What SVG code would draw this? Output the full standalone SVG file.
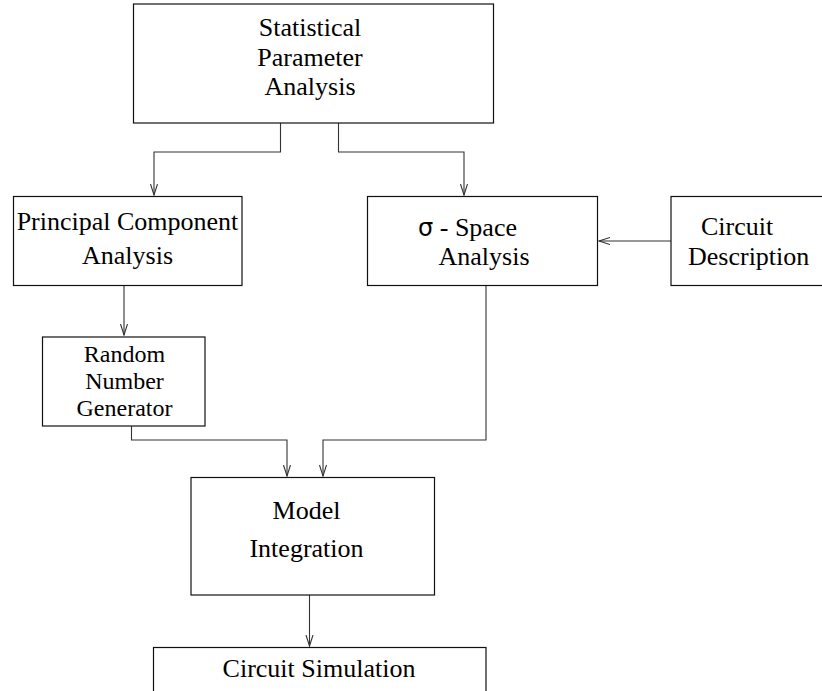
<svg xmlns="http://www.w3.org/2000/svg" width="822" height="691" viewBox="0 0 822 691">
<style>
.box{fill:#fff;stroke:#111;stroke-width:1.2}
.t{font-family:"Liberation Serif","Times New Roman",serif;font-size:26px;fill:#000}
.s{font-size:24px}
.m{text-anchor:middle}
.c{fill:none;stroke:#333;stroke-width:1.1}
</style>
<defs>
<marker id="arr" markerUnits="userSpaceOnUse" markerWidth="12" markerHeight="9" refX="11" refY="4" orient="auto">
<path d="M0,0.5 L11,4 L0,7.5" fill="none" stroke="#333" stroke-width="1.1"/>
</marker>
</defs>
<rect width="822" height="691" fill="#fff"/>
<g id="connectors">
<path class="c" d="M280.5,123 V152 H154 V195" marker-end="url(#arr)"/>
<path class="c" d="M338.5,123 V152 H464 V195" marker-end="url(#arr)"/>
<path class="c" d="M671,241 H599" marker-end="url(#arr)"/>
<path class="c" d="M124,286 V335" marker-end="url(#arr)"/>
<path class="c" d="M131.5,426 V440 H287 V476" marker-end="url(#arr)"/>
<path class="c" d="M486,286 V440 H323 V476" marker-end="url(#arr)"/>
<path class="c" d="M309.5,595 V646" marker-end="url(#arr)"/>
</g>
<g id="statistical">
<rect class="box" x="133.5" y="4" width="360" height="119"/>
<text class="t m" x="310" y="36">Statistical</text>
<text class="t m" x="310" y="66">Parameter</text>
<text class="t m" x="310" y="95">Analysis</text>
</g>
<g id="principal">
<rect class="box" x="13.5" y="196.5" width="228.5" height="89"/>
<text class="t m" x="127.5" y="230">Principal Component</text>
<text class="t m" x="127.5" y="264">Analysis</text>
</g>
<g id="sigma">
<rect class="box" x="367.5" y="196.5" width="230" height="89"/>
<text class="t" x="418" y="236"><tspan font-family="'DejaVu Sans',sans-serif" font-size="24">σ</tspan> - Space</text>
<text class="t m" x="484" y="265">Analysis</text>
</g>
<g id="circuit-description">
<rect class="box" x="671" y="196.5" width="160" height="89"/>
<text class="t" x="701" y="235">Circuit</text>
<text class="t" x="688" y="265">Description</text>
</g>
<g id="random">
<rect class="box" x="42.5" y="337" width="162.5" height="89"/>
<text class="t s m" x="124.5" y="362">Random</text>
<text class="t s m" x="124.5" y="389">Number</text>
<text class="t s m" x="124.5" y="416">Generator</text>
</g>
<g id="model">
<rect class="box" x="191" y="477.5" width="243.5" height="117.5"/>
<text class="t m" x="306.5" y="519">Model</text>
<text class="t m" x="306.5" y="557">Integration</text>
</g>
<g id="circuit-simulation">
<rect class="box" x="153.5" y="647.5" width="332.5" height="60"/>
<text class="t m" x="319" y="677">Circuit Simulation</text>
</g>
</svg>
